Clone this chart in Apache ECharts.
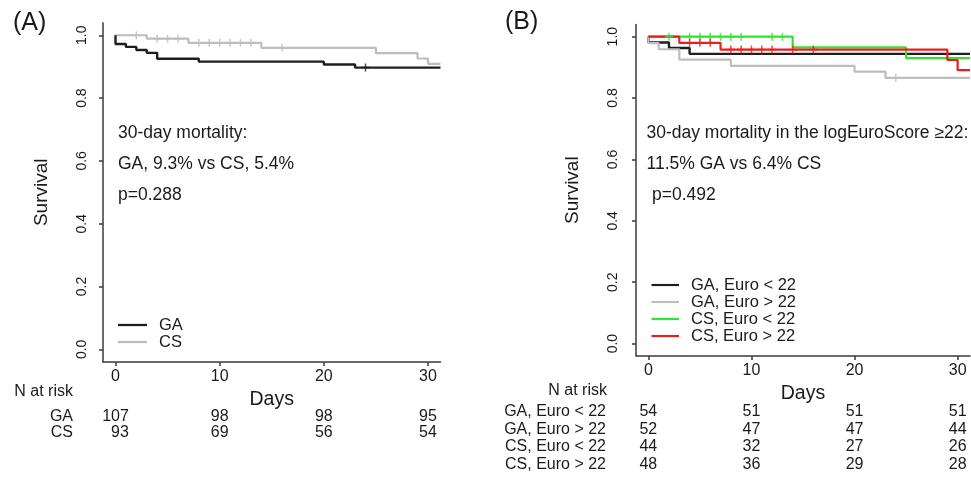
<!DOCTYPE html>
<html>
<head>
<meta charset="utf-8">
<script src="https://cdn.jsdelivr.net/npm/echarts@6/dist/echarts.min.js"></script>
<style>html,body{margin:0;padding:0;background:#fff;}#c{width:971px;height:477px;}</style>
</head>
<body>
<div id="c"></div>
<script>
// ---------- data ----------
const dayTicks = [0, 10, 20, 30];
const survTicks = [0, 0.2, 0.4, 0.6, 0.8, 1.0];

// Panel A
const gaA_time = [0, 0, 1, 2, 3, 4, 8, 20, 23, 31.2];
const gaA_surv = [1, 0.972, 0.963, 0.953, 0.944, 0.925, 0.916, 0.907, 0.897, 0.897];
const gaA_cens = [24];
const csA_time = [0, 3, 7, 14, 25, 29, 30, 31.2];
const csA_surv = [1, 0.989, 0.976, 0.960, 0.943, 0.926, 0.909, 0.909];
const csA_cens = [2, 4, 5, 6, 8, 9, 10, 11, 12, 13, 16];
const riskRowsA = ['GA', 'CS'];
const riskGA_A = [107, 98, 98, 95];
const riskCS_A = [93, 69, 56, 54];

// Panel B
const gaLo_time = [0, 0, 2, 4, 31.2];
const gaLo_surv = [1, 0.981, 0.963, 0.944, 0.944];
const gaHi_time = [0, 0, 1, 3, 8, 20, 23, 31.2];
const gaHi_surv = [1, 0.979, 0.959, 0.925, 0.905, 0.886, 0.866, 0.866];
const gaHi_cens = [24];
const csLo_time = [0, 14, 25, 31.2];
const csLo_surv = [1, 0.965, 0.930, 0.930];
const csLo_cens = [2, 4, 5, 6, 7, 8, 9, 12, 13];
const csHi_time = [0, 3, 7, 29, 30, 31.2];
const csHi_surv = [1, 0.980, 0.958, 0.924, 0.891, 0.891];
const csHi_cens = [4, 5, 6, 8, 9, 10, 11, 12, 14, 16];
const riskRowsB = ['GA, Euro < 22', 'GA, Euro > 22', 'CS, Euro < 22', 'CS, Euro > 22'];
const riskGaLo = [54, 51, 51, 51];
const riskGaHi = [52, 47, 47, 44];
const riskCsLo = [44, 32, 27, 26];
const riskCsHi = [48, 36, 29, 28];

// ---------- helpers ----------
const FONT = '"Liberation Sans", Arial, Helvetica, sans-serif';
const TXT = '#1a1a1a';
const AX = '#3a3a3a';
const C_BLACK = '#1e1e1e', C_GRAY = '#bdbdbd', C_GREEN = '#2ee62e', C_RED = '#ee1c1c';
const PLUS = 'path://M3.25,0 L4.75,0 L4.75,3.25 L8,3.25 L8,4.75 L4.75,4.75 L4.75,8 L3.25,8 L3.25,4.75 L0,4.75 L0,3.25 L3.25,3.25 Z';
const LEG_ICON = 'path://M0,0 L28,0 L28,2.2 L0,2.2 Z';

function pairs(ts, ss) { return ts.map((t, i) => [t, ss[i]]); }
function levelAt(ts, ss, t) { let v = ss[0]; for (let i = 0; i < ts.length; i++) if (ts[i] <= t) v = ss[i]; return v; }
function censPts(ts, ss, cs) { return cs.map(t => [t, levelAt(ts, ss, t)]); }

function plotX(gi) {
  return {
    type: 'value', gridIndex: gi, min: -1.2, max: 31.2,
    name: 'Days', nameLocation: 'middle', nameGap: 19,
    nameTextStyle: { fontSize: 19.5, color: TXT, fontFamily: FONT, verticalAlign: 'top' },
    splitLine: { show: false },
    axisLine: { show: true, onZero: false, lineStyle: { color: AX, width: 1.5 } },
    axisTick: { show: true, length: 4, customValues: dayTicks, lineStyle: { color: AX, width: 1.5 } },
    axisLabel: { customValues: dayTicks, fontSize: 16, color: TXT, fontFamily: FONT, margin: 7 }
  };
}
function plotY(gi, gap, lm) {
  return {
    type: 'value', gridIndex: gi, min: -0.04, max: 1.04,
    name: 'Survival', nameLocation: 'middle', nameGap: gap, nameRotate: 90,
    nameTextStyle: { fontSize: 19, color: TXT, fontFamily: FONT },
    splitLine: { show: false },
    axisLine: { show: true, onZero: false, lineStyle: { color: AX, width: 1.5 } },
    axisTick: { show: true, length: 4, customValues: survTicks, lineStyle: { color: AX, width: 1.5 } },
    axisLabel: { customValues: survTicks, rotate: 90, fontSize: 14, color: TXT, fontFamily: FONT, margin: lm,
      formatter: v => Number(v).toFixed(1) }
  };
}
function tableX(gi) { return { type: 'value', gridIndex: gi, min: -1.2, max: 31.2, show: false }; }
function tableY(gi, rows) {
  return { type: 'category', gridIndex: gi, data: rows, inverse: true,
    axisLine: { show: false }, axisTick: { show: false }, splitLine: { show: false },
    axisLabel: { interval: 0, fontSize: 16, color: TXT, fontFamily: FONT, margin: 30 } };
}
function km(name, ts, ss, color, xi, z, w) {
  return { type: 'line', name, xAxisIndex: xi, yAxisIndex: xi, data: pairs(ts, ss), step: 'end',
    symbol: 'none', lineStyle: { color, width: w || 2 }, itemStyle: { color }, z, silent: true, animation: false };
}
function cens(name, ts, ss, cs, color, xi, z) {
  return { type: 'scatter', name, xAxisIndex: xi, yAxisIndex: xi, data: censPts(ts, ss, cs),
    symbol: PLUS, symbolSize: 8, itemStyle: { color }, z, silent: true, animation: false };
}
// risk table drawn as a custom series positioned through the table grid's axes
function riskTable(name, tables, xi) {
  const texts = [];
  const data = [];
  tables.forEach((vals, r) => {
    texts.push([]);
    dayTicks.forEach((d, c) => {
      const w = Math.max(...tables.map(a => String(a[c]).length));
      texts[r].push(String(vals[c]).padStart(w, '\u2007'));
      data.push([d, r, c]);
    });
  });
  return { type: 'custom', name, xAxisIndex: xi, yAxisIndex: xi, data, silent: true, animation: false,
    encode: { x: 0, y: 1 },
    renderItem: (params, api) => {
      const p = api.coord([api.value(0), api.value(1)]);
      const r = api.value(1), c = api.value(2);
      return { type: 'text', x: p[0], y: p[1],
        style: { text: texts[r][c], fill: TXT, fontSize: 16, fontFamily: FONT, align: 'center', verticalAlign: 'middle' } };
    } };
}
function gtext(text, x, y, size, align) {
  return { type: 'text', x, y, silent: true,
    style: { text, fontSize: size, fontFamily: FONT, fill: TXT, align: align || 'left', verticalAlign: 'middle' } };
}

const option = {
  backgroundColor: '#fff',
  animation: false,
  textStyle: { fontFamily: FONT },
  grid: [
    { left: 103, top: 22.7, width: 337.5, height: 339.2 },
    { left: 636, top: 24.4, width: 334, height: 331.5 },
    { left: 103, top: 409, width: 337.5, height: 32 },
    { left: 636, top: 403, width: 334, height: 70 }
  ],
  xAxis: [plotX(0), plotX(1), tableX(2), tableX(3)],
  yAxis: [plotY(0, 52, 14), plotY(1, 54, 16), tableY(2, riskRowsA), tableY(3, riskRowsB)],
  legend: [
    { left: 118, top: 316.5, padding: 0, orient: 'vertical', itemWidth: 29, itemHeight: 17, itemGap: 0,
      icon: LEG_ICON, data: riskRowsA, selectedMode: false,
      textStyle: { fontSize: 16.5, color: TXT, fontFamily: FONT, padding: [0, 0, 0, 7] } },
    { left: 651.5, top: 276.5, padding: 0, orient: 'vertical', itemWidth: 27.5, itemHeight: 17, itemGap: 0,
      icon: LEG_ICON, data: riskRowsB, selectedMode: false,
      textStyle: { fontSize: 16.5, color: TXT, fontFamily: FONT, padding: [0, 0, 0, 7] } }
  ],
  series: [
    km('GA', gaA_time, gaA_surv, C_BLACK, 0, 3, 2.4),
    km('CS', csA_time, csA_surv, C_GRAY, 0, 2, 2.2),
    cens('GA censored', gaA_time, gaA_surv, gaA_cens, C_BLACK, 0, 4),
    cens('CS censored', csA_time, csA_surv, csA_cens, C_GRAY, 0, 4),

    km(riskRowsB[0], gaLo_time, gaLo_surv, C_BLACK, 1, 2, 2.4),
    km(riskRowsB[1], gaHi_time, gaHi_surv, C_GRAY, 1, 2, 2.2),
    km(riskRowsB[2], csLo_time, csLo_surv, C_GREEN, 1, 3, 2.2),
    km(riskRowsB[3], csHi_time, csHi_surv, C_RED, 1, 4, 2.2),
    cens('gaHi censored', gaHi_time, gaHi_surv, gaHi_cens, C_GRAY, 1, 5),
    cens('csLo censored', csLo_time, csLo_surv, csLo_cens, C_GREEN, 1, 5),
    cens('csHi censored', csHi_time, csHi_surv, csHi_cens, C_RED, 1, 6),

    riskTable('risk A', [riskGA_A, riskCS_A], 2),
    riskTable('risk B', [riskGaLo, riskGaHi, riskCsLo, riskCsHi], 3)
  ],
  graphic: [
    gtext('(A)', 13, 23, 25),
    gtext('(B)', 505, 22, 25),
    gtext('30-day mortality:', 118, 133, 17.5),
    gtext('GA, 9.3% vs CS, 5.4%', 118, 164, 17.5),
    gtext('p=0.288', 118, 195, 17.5),
    gtext('30-day mortality in the logEuroScore \u226522:', 646.5, 133, 17.5),
    gtext('11.5% GA vs 6.4% CS', 646.5, 164, 17.5),
    gtext('p=0.492', 652, 195, 17.5),
    gtext('N at risk', 73, 392, 16, 'right'),
    gtext('N at risk', 607, 391, 16, 'right')
  ]
};

const chart = echarts.init(document.getElementById('c'), null, { renderer: 'canvas' });
chart.setOption(option);
</script>
</body>
</html>
